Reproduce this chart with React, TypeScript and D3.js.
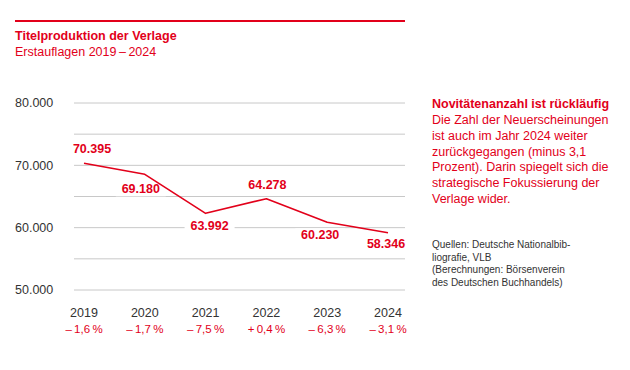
import React from "react";
import * as d3 from "d3";

// years on the x axis
const years = ["2019", "2020", "2021", "2022", "2023", "2024"];
// printed value labels (Erstauflagen)
const valueLabels = ["70.395", "69.180", "63.992", "64.278", "60.230", "58.346"];
// line as it is drawn in the chart
const lineValues = [70330, 68560, 62300, 64650, 60860, 59190];
// change vs. previous year
const changes = ["–\u20091,6\u2009%", "–\u20091,7\u2009%", "–\u20097,5\u2009%", "+\u20090,4\u2009%", "–\u20096,3\u2009%", "–\u20093,1\u2009%"];
const yTicks = [50000, 60000, 70000, 80000];
const gridTicks = [50000, 55000, 60000, 65000, 70000, 75000, 80000];

// label offsets from the data point (layout, not data)
const labelOffsets: [number, number][] = [
  [8, -10], [-4, 19], [4, 17], [1, -10], [-7, 17], [-2, 15],
];

const title = "Titelproduktion der Verlage";
const subtitle = "Erstauflagen 2019\u2009–\u20092024";
const noteHead = "Novitätenanzahl ist rückläufig";
const noteLines = [
  "Die Zahl der Neuerscheinungen",
  "ist auch im Jahr 2024 weiter",
  "zurückgegangen (minus 3,1",
  "Prozent). Darin spiegelt sich die",
  "strategische Fokussierung der",
  "Verlage wider.",
];
const sourceLines = [
  "Quellen: Deutsche Nationalbib-",
  "liografie, VLB",
  "(Berechnungen: Börsenverein",
  "des Deutschen Buchhandels)",
];

const RED = "#e2001a";
const GREY = "#333";
const FONT = "'Liberation Sans', Arial, sans-serif";

export default function App() {
  const width = 630;
  const height = 370;

  const x = d3.scalePoint<string>().domain(years).range([84, 388]);
  const y = d3.scaleLinear().domain([50000, 80000]).range([290, 103]);

  const line = d3
    .line<number>()
    .x((_, i) => x(years[i]) as number)
    .y((d) => y(d));

  const fmt = (v: number) => d3.format(",")(v).replace(/,/g, ".");

  return (
    <svg
      width={width}
      height={height}
      style={{ position: "absolute", left: 0, top: 0, background: "#fff" }}
      fontFamily={FONT}
    >
      <rect x={15} y={20} width={390} height={2} fill={RED} />
      <text x={15} y={40} fill={RED} fontSize={12.5} fontWeight={700}>
        {title}
      </text>
      <text x={15} y={56} fill={RED} fontSize={12.5}>
        {subtitle}
      </text>

      {/* grid */}
      {gridTicks.map((t) => (
        <line key={t} x1={74} x2={405} y1={y(t)} y2={y(t)} stroke="#c8c8c8" strokeWidth={1} />
      ))}
      {yTicks.map((t) => (
        <text key={t} x={15} y={y(t)} dy="0.35em" fill={GREY} fontSize={12.5}>
          {fmt(t)}
        </text>
      ))}

      {/* white knock-out behind value labels */}
      {lineValues.map((v, i) => {
        const cx = (x(years[i]) as number) + labelOffsets[i][0];
        const by = y(v) + labelOffsets[i][1];
        return <rect key={i} x={cx - 25} y={by - 11} width={50} height={14} fill="#fff" />;
      })}

      <path d={line(lineValues) || ""} fill="none" stroke={RED} strokeWidth={1.6} strokeLinejoin="round" />

      {lineValues.map((v, i) => (
        <text
          key={i}
          x={(x(years[i]) as number) + labelOffsets[i][0]}
          y={y(v) + labelOffsets[i][1]}
          textAnchor="middle"
          fill={RED}
          fontSize={12.5}
          fontWeight={700}
        >
          {valueLabels[i]}
        </text>
      ))}

      {years.map((yr, i) => (
        <g key={yr} transform={`translate(${x(yr)},0)`}>
          <text y={317} textAnchor="middle" fill={GREY} fontSize={12.5}>
            {yr}
          </text>
          <text y={333} textAnchor="middle" fill={RED} fontSize={11.5}>
            {changes[i]}
          </text>
        </g>
      ))}

      <text x={432} y={108} fill={RED} fontSize={12.5} fontWeight={700}>
        {noteHead}
      </text>
      {noteLines.map((l, i) => (
        <text key={i} x={432} y={124 + i * 15.8} fill={RED} fontSize={12.5}>
          {l}
        </text>
      ))}
      {sourceLines.map((l, i) => (
        <text key={i} x={432} y={248 + i * 12.7} fill={GREY} fontSize={10}>
          {l}
        </text>
      ))}
    </svg>
  );
}
